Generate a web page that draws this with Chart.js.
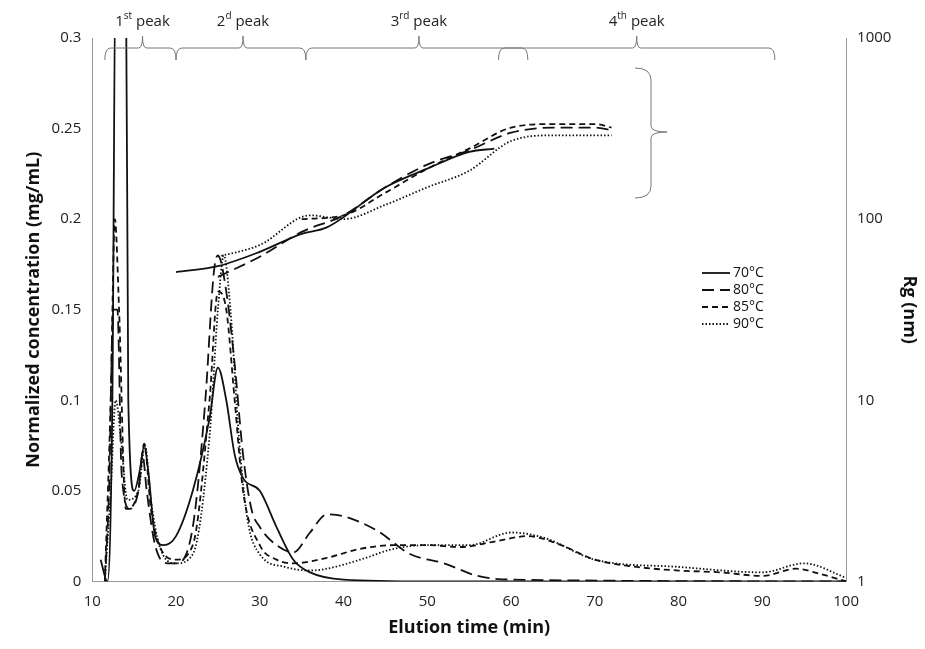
<!DOCTYPE html>
<html><head><meta charset="utf-8">
<script src="https://cdn.jsdelivr.net/npm/chart.js@4"></script>
<style>body{margin:0;background:#fff}</style>
</head><body><canvas id="c" width="925" height="649"></canvas>
<script>
const series = ['70°C', '80°C', '85°C', '90°C'];
const dashes = [[], [12, 6], [6, 4], [1.5, 2]];
const conc70 = [[11,0.012],[11.8,0],[12.4,0.1],[12.8,0.35],[14.0,0.35],[14.3,0.1],[15,0.05],[15.7,0.062],[16.2,0.075],[16.7,0.06],[17.5,0.025],[18.5,0.02],[20,0.025],[22,0.05],[24,0.09],[25,0.118],[26,0.1],[27,0.07],[28,0.057],[30,0.05],[32,0.03],[34,0.012],[36,0.005],[40,0.001],[50,0],[100,0]];
const conc80 = [[11.5,0],[12,0.05],[12.5,0.15],[13,0.15],[13.5,0.06],[14.5,0.04],[15.5,0.05],[16,0.07],[16.5,0.05],[17.5,0.02],[19,0.01],[20,0.01],[22,0.03],[23.5,0.1],[24.5,0.17],[25,0.18],[26,0.16],[27,0.12],[28,0.07],[29,0.04],[30,0.03],[32,0.02],[34,0.016],[36,0.027],[38,0.037],[40,0.036],[44,0.028],[48,0.015],[52,0.01],[56,0.003],[60,0.001],[100,0]];
const conc85 = [[11.5,0],[12.2,0.1],[12.7,0.2],[13.2,0.15],[14,0.04],[15.5,0.05],[16.2,0.076],[17,0.04],[18,0.02],[20,0.012],[22,0.02],[24,0.1],[25,0.16],[26,0.15],[27,0.1],[28,0.05],[30,0.02],[32,0.012],[34,0.01],[38,0.013],[42,0.018],[46,0.02],[50,0.02],[54,0.019],[58,0.022],[62,0.025],[66,0.02],[70,0.012],[75,0.008],[80,0.006],[85,0.005],[90,0.003],[94,0.007],[97,0.004],[100,0]];
const conc90 = [[11.5,0],[12.2,0.05],[12.8,0.1],[13.4,0.08],[14.2,0.045],[15.5,0.05],[16.3,0.075],[17,0.045],[18,0.02],[20,0.01],[22,0.015],[24,0.08],[25,0.15],[25.7,0.18],[26.5,0.15],[27.5,0.08],[28.5,0.035],[30,0.015],[33,0.008],[36,0.006],[38,0.007],[42,0.012],[46,0.018],[50,0.02],[55,0.02],[60,0.027],[64,0.024],[70,0.012],[80,0.008],[90,0.005],[95,0.01],[100,0.002]];
const rg70 = [[20,51],[25,55],[30,66],[35,83],[38,90],[45,150],[50,190],[55,235],[58,245]];
const rg80 = [[25,48],[30,62],[35,85],[40,105],[45,150],[50,200],[55,240],[60,300],[65,320],[70,320],[72,310]];
const rg85 = [[35,100],[40,105],[45,140],[50,190],[55,245],[60,320],[65,335],[70,335],[72,320]];
const rg90 = [[25,62],[30,72],[36,105],[40,100],[45,120],[50,150],[55,185],[60,270],[65,290],[70,290],[72,290]];
const brackets = [['1', 'st', 11.5, 20, 16], ['2', 'd', 20, 35.5, 28], ['3', 'rd', 35.5, 62, 49], ['4', 'th', 58.5, 91.5, 75]];

const conc = [conc70, conc80, conc85, conc90];
const rg = [rg70, rg80, rg85, rg90];
const toPts = a => a.map(p => ({x: p[0], y: p[1]}));
const datasets = [];
series.forEach((s, i) => {
  datasets.push({label: s, data: toPts(conc[i]), yAxisID: 'y', borderColor: '#111', borderDash: dashes[i], borderWidth: 1.8, pointRadius: 0, cubicInterpolationMode: 'monotone'});
  datasets.push({label: s + ' Rg', data: toPts(rg[i]), yAxisID: 'y2', borderColor: '#111', borderDash: dashes[i], borderWidth: 1.8, pointRadius: 0, cubicInterpolationMode: 'monotone'});
});

const extras = {
  id: 'extras',
  afterDraw(chart) {
    const c = chart.ctx, xs = chart.scales.x;
    c.save();
    c.strokeStyle = '#777'; c.lineWidth = 1; c.fillStyle = '#222';
    c.font = '15px "Open Sans", sans-serif';
    const yb = 48;
    brackets.forEach(b => {
      const a = xs.getPixelForValue(b[2]), e = xs.getPixelForValue(b[3]), m = xs.getPixelForValue(b[4]);
      c.beginPath();
      c.moveTo(a, yb + 12); c.quadraticCurveTo(a, yb, a + 6, yb);
      c.lineTo(m - 4, yb); c.quadraticCurveTo(m, yb, m, yb - 12);
      c.quadraticCurveTo(m, yb, m + 4, yb);
      c.lineTo(e - 6, yb); c.quadraticCurveTo(e, yb, e, yb + 12);
      c.stroke();
      const w1 = c.measureText(b[0]).width;
      c.font = '10px "Open Sans", sans-serif';
      const w2 = c.measureText(b[1]).width;
      c.font = '15px "Open Sans", sans-serif';
      const w3 = c.measureText(' peak').width;
      const x0 = m - (w1 + w2 + w3) / 2;
      c.textAlign = 'left';
      c.fillText(b[0], x0, 26);
      c.font = '10px "Open Sans", sans-serif'; c.fillText(b[1], x0 + w1, 19);
      c.font = '15px "Open Sans", sans-serif'; c.fillText(' peak', x0 + w1 + w2, 26);
    });
    // right brace
    const bx = 635, t = 68, bt = 198, mid = 132;
    c.beginPath();
    c.moveTo(bx, t); c.quadraticCurveTo(bx + 16, t, bx + 16, t + 12);
    c.lineTo(bx + 16, mid - 6); c.quadraticCurveTo(bx + 16, mid, bx + 32, mid);
    c.quadraticCurveTo(bx + 16, mid, bx + 16, mid + 6);
    c.lineTo(bx + 16, bt - 12); c.quadraticCurveTo(bx + 16, bt, bx, bt);
    c.stroke();
    // legend
    c.strokeStyle = '#111'; c.lineWidth = 1.8; c.fillStyle = '#111';
    c.font = '14px "Open Sans", sans-serif'; c.textBaseline = 'middle';
    series.forEach((s, i) => {
      const y = 273 + i * 17;
      c.setLineDash(dashes[i]);
      c.beginPath(); c.moveTo(702, y); c.lineTo(730, y); c.stroke();
      c.fillText(s, 733, y);
    });
    c.restore();
  }
};

const tickFont = {size: 15, family: 'Open Sans'};
new Chart(document.getElementById('c'), {
  type: 'line',
  data: {datasets},
  plugins: [extras],
  options: {
    responsive: false, animation: false, devicePixelRatio: 1,
    layout: {padding: {top: 38, right: 1, left: 19, bottom: 6}},
    plugins: {legend: {display: false}, tooltip: {enabled: false}},
    scales: {
      x: {type: 'linear', min: 10, max: 100, ticks: {stepSize: 10, color: '#222', font: tickFont},
          grid: {display: false}, border: {color: '#999'},
          title: {display: true, text: 'Elution time (min)', color: '#111', font: {size: 18, weight: 'bold', family: 'Open Sans'}}},
      y: {min: 0, max: 0.3, ticks: {stepSize: 0.05, color: '#222', font: tickFont, callback: v => +v.toFixed(2)},
          grid: {display: false}, border: {color: '#999'},
          title: {display: true, text: 'Normalized concentration (mg/mL)', color: '#111', font: {size: 18, weight: 'bold', family: 'Open Sans'}}},
      y2: {type: 'logarithmic', position: 'right', min: 1, max: 1000,
          ticks: {color: '#222', font: tickFont, callback: v => v},
          afterBuildTicks: ax => { ax.ticks = [1, 10, 100, 1000].map(v => ({value: v})); },
          grid: {display: false}, border: {color: '#999'},
          title: {display: true, text: 'Rg (nm)', color: '#111', font: {size: 18, weight: 'bold', family: 'Open Sans'}}}
    }
  }
});
</script>
</body></html>
